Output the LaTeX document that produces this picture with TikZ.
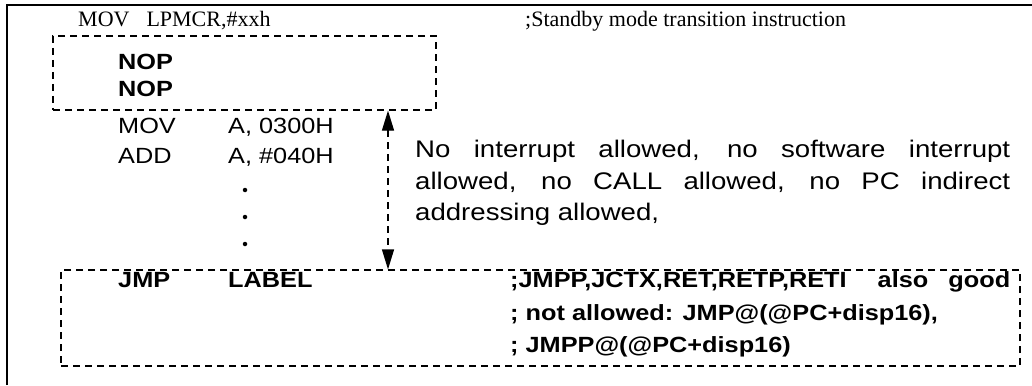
\documentclass[tikz,border=0pt]{standalone}
\usepackage{fontspec}
\setmainfont{Liberation Serif}
\newfontfamily\arialfont[FakeStretch=1.15]{Liberation Sans}
\usetikzlibrary{arrows.meta}
\begin{document}
\begin{tikzpicture}[x=1pt,y=-1pt,
  frame/.style={line width=2pt},
  dbox/.style={draw, dash pattern=on 7pt off 5pt, line width=1.2pt, inner sep=0pt},
  serif/.style={anchor=base west, inner sep=0pt, font=\fontsize{22}{26}\selectfont},
  code/.style={anchor=base west, inner sep=0pt, font=\arialfont\fontsize{22}{26}\selectfont},
  bcode/.style={anchor=base west, inner sep=0pt, font=\arialfont\bfseries\fontsize{22}{26}\selectfont},
  note/.style={anchor=base west, inner sep=0pt, font=\arialfont\fontsize{24}{28}\selectfont},
  dotmark/.style={circle, fill, inner sep=0pt, minimum size=4.5pt},
  span/.style={dash pattern=on 7pt off 5pt, line width=1.2pt,
    {Triangle[length=20pt,width=12pt]}-{Triangle[length=20pt,width=12pt]}}
]
\useasboundingbox (0,0) rectangle (1032,385);

% outer frame: top and left rules
\draw[frame] (7,385) -- (7,5) -- (1032,5);

% standby entry line
\node[serif] (mov0) at (78,27) {MOV\hspace{17pt}LPMCR,\#xxh};
\node[serif] (cmt0) at (525,27) {;Standby mode transition instruction};

% protected NOP block
\node[dbox, minimum width=383pt, minimum height=74pt] (box1) at (244.5,73) {};
\node[bcode] (nop1) at (118,70) {NOP};
\node[bcode] (nop2) at (118,97) {NOP};

% ordinary instructions
\node[code] (mov1) at (118,133) {MOV};
\node[code] (mov1a) at (228,133) {A, 0300H};
\node[code] (add1) at (118,163) {ADD};
\node[code] (add1a) at (228,163) {A, \#040H};
\node[dotmark] (d1) at (245,190) {};
\node[dotmark] (d2) at (245,217) {};
\node[dotmark] (d3) at (245,244) {};

% restriction note
\node[note] (n1) at (415,157) {\makebox[595pt][s]{No interrupt allowed, no software interrupt}};
\node[note] (n2) at (415,189) {\makebox[595pt][s]{allowed, no CALL allowed, no PC indirect}};
\node[note] (n3) at (415,220) {addressing allowed,};

% closing jump block
\node[dbox, minimum width=959pt, minimum height=96pt] (box2) at (540.5,318) {};
\node[bcode] (jmp) at (118,287) {JMP};
\node[bcode] (lbl) at (228,287) {LABEL};
\node[bcode] (c1) at (510,287) {\makebox[500pt][s]{;JMPP,JCTX,RET,RETP,RETI\hspace{0.5em} also good}};
\node[bcode] (c2) at (510,320) {; not allowed: JMP@(@PC+disp16),};
\node[bcode] (c3) at (510,352) {; JMPP@(@PC+disp16)};

% span between the two blocks
\coordinate (ax) at (388,0);
\draw[span] (box1.south -| ax) -- (box2.north -| ax);
\end{tikzpicture}
\end{document}
